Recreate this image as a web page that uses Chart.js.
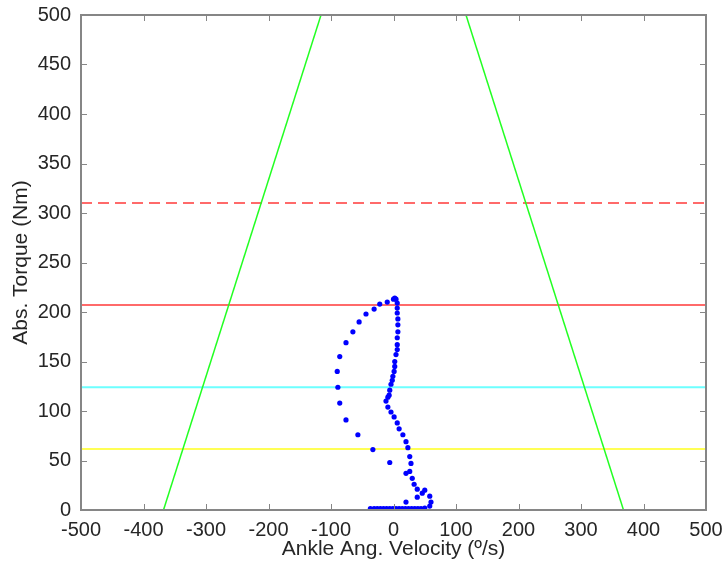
<!DOCTYPE html>
<html>
<head>
<meta charset="utf-8">
<script src="https://cdn.jsdelivr.net/npm/chart.js@4/dist/chart.umd.min.js"></script>
<style>
  html, body { margin: 0; padding: 0; background: #ffffff; }
  #wrap { width: 725px; height: 572px; }
</style>
</head>
<body>
<div id="wrap"><canvas id="c" width="725" height="572"></canvas></div>
<script>
// ---- Data ----
const xTicks = [-500, -400, -300, -200, -100, 0, 100, 200, 300, 400, 500];
const yTicks = [0, 50, 100, 150, 200, 250, 300, 350, 400, 450, 500];

// Blue trajectory: ankle angular velocity (deg/s) vs absolute torque (Nm)
const velocity = [
  -37, -31, -26, -21, -16, -11, -6, -1, 4, 9, 14, 19, 24, 29, 34, 39, 44, 50,
  58, 60, 58, 50, 46, 38, 38, 33, 30, 26, 28, 26, 23, 20, 15, 9, 6, 1, -4, -9, -12,
  -9, -7, -6, -4, -2, -1, 1, 2, 2, 4, 6, 6, 6, 7, 7, 7, 6, 6, 6, 4, 2, 0,
  -10, -22, -31, -44, -55, -65, -76, -86, -90, -89, -86, -76, -57, -33, -6, 20, 20
];
const torque = [
  1.5, 1.5, 1.5, 1.5, 1.5, 1.5, 1.5, 1.5, 1.5, 1.5, 1.5, 1.5, 1.5, 1.5, 1.5, 1.5, 1.5, 2,
  4, 8, 14, 20, 17, 13, 21, 26, 32, 39, 47, 54, 63, 69, 76, 82, 88, 94, 99, 104, 110,
  114, 116, 121, 127, 131, 135, 140, 145, 150, 157, 162, 167, 174, 180, 187, 193, 199, 204, 209, 213, 214, 213,
  210, 208, 203, 198, 190, 180, 169, 155, 140, 124, 108, 91, 76, 61, 48, 37, 8
];

// Green limit lines (velocity at torque 0 and at torque 500)
const leftLimitVel = [-368, -116];
const rightLimitVel = [368, 116];
const limitTorque = [0, 500];

// Horizontal threshold levels (Nm)
const redDashedLevel = 310;
const redLevel = 207;
const cyanLevel = 124;
const yellowLevel = 61.5;
const xRange = [-500, 500];

// ---- Build datasets ----
const pts = velocity.map((v, i) => ({ x: v, y: torque[i] }));
const lineData = (xs, ys) => xs.map((v, i) => ({ x: v, y: ys[i] }));
const hLine = (lvl) => xRange.map(v => ({ x: v, y: lvl }));

const FONT = "'Liberation Sans', Arial, Helvetica, sans-serif";

const noAutoPad = (s) => { s.paddingLeft = 0; s.paddingRight = 0; s.paddingTop = 0; s.paddingBottom = 0; };

const boxPlugin = {
  id: 'matlabBox',
  afterDraw(chart) {
    const { ctx, chartArea: { left, right, top, bottom }, scales: { x, y } } = chart;
    ctx.save();
    ctx.strokeStyle = '#868686';
    ctx.lineWidth = 1;
    const tl = 6;
    ctx.beginPath();
    x.ticks.forEach(t => {
      const px = Math.round(x.getPixelForValue(t.value)) + 0.5;
      ctx.moveTo(px, bottom); ctx.lineTo(px, bottom - tl);
      ctx.moveTo(px, top); ctx.lineTo(px, top + tl);
    });
    y.ticks.forEach(t => {
      const py = Math.round(y.getPixelForValue(t.value)) + 0.5;
      ctx.moveTo(left, py); ctx.lineTo(left + tl, py);
      ctx.moveTo(right, py); ctx.lineTo(right - tl, py);
    });
    ctx.stroke();
    ctx.lineWidth = 2;
    ctx.strokeRect(left, top, right - left, bottom - top);
    ctx.restore();
  }
};

new Chart(document.getElementById('c'), {
  type: 'scatter',
  data: {
    datasets: [
      { data: pts, order: 0, showLine: false, pointRadius: 2.6, pointBackgroundColor: '#0000ff', pointBorderWidth: 0, borderColor: '#0000ff' },
      { data: lineData(leftLimitVel, limitTorque), order: 1, showLine: true, borderColor: '#22ff22', borderWidth: 1.5, pointRadius: 0 },
      { data: lineData(rightLimitVel, limitTorque), order: 1, showLine: true, borderColor: '#22ff22', borderWidth: 1.5, pointRadius: 0 },
      { data: hLine(redDashedLevel), order: 1, showLine: true, borderColor: '#ff6a6a', borderWidth: 2, borderDash: [11, 6], pointRadius: 0 },
      { data: hLine(redLevel), order: 1, showLine: true, borderColor: '#ff6a6a', borderWidth: 2, pointRadius: 0 },
      { data: hLine(cyanLevel), order: 1, showLine: true, borderColor: '#6dffff', borderWidth: 2, pointRadius: 0 },
      { data: hLine(yellowLevel), order: 1, showLine: true, borderColor: '#ffff55', borderWidth: 2, pointRadius: 0 }
    ]
  },
  options: {
    responsive: false,
    animation: false,
    devicePixelRatio: 1,
    layout: { padding: { left: 0, right: 19, top: 15, bottom: 0 } },
    plugins: { legend: { display: false }, tooltip: { enabled: false } },
    scales: {
      x: {
        type: 'linear', min: -500, max: 500,
        afterBuildTicks: (s) => { s.ticks = xTicks.map(v => ({ value: v })); },
        afterFit: (s) => { s.height = 62; noAutoPad(s); },
        grid: { display: false, drawTicks: false },
        border: { display: false },
        ticks: { padding: 8, color: '#262626', font: { family: FONT, size: 20 }, maxRotation: 0, autoSkip: false },
        title: { display: true, text: 'Ankle Ang. Velocity (º/s)', color: '#262626', font: { family: FONT, size: 21 }, padding: { top: 0, bottom: 10 } }
      },
      y: {
        type: 'linear', min: 0, max: 500,
        afterBuildTicks: (s) => { s.ticks = yTicks.map(v => ({ value: v })); },
        afterFit: (s) => { s.width = 81; noAutoPad(s); },
        grid: { display: false, drawTicks: false },
        border: { display: false },
        ticks: { padding: 10, color: '#262626', font: { family: FONT, size: 20 }, autoSkip: false },
        title: { display: true, text: 'Abs. Torque (Nm)', color: '#262626', font: { family: FONT, size: 21 }, padding: { top: 9, bottom: 0 } }
      }
    }
  },
  plugins: [boxPlugin]
});
</script>
</body>
</html>
